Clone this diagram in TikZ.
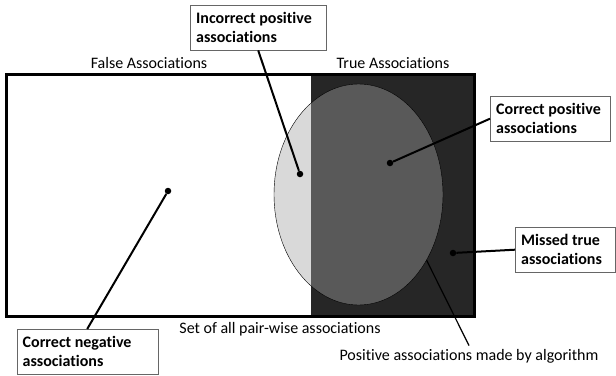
\documentclass[tikz,border=0pt]{standalone}
\usepackage{fontspec}
\setmainfont{Carlito}[Ligatures=CommonOff]
\usetikzlibrary{shapes.geometric, positioning}

\begin{document}
\begin{tikzpicture}[
    x=1pt, y=-1pt,
    labelbox/.style={draw=black!60, fill=white, anchor=north west, align=flush left, minimum height=45pt, inner xsep=6pt, font=\fontsize{16}{19}\selectfont\bfseries},
    caption/.style={font=\fontsize{16}{19}\selectfont},
    pointer/.style={line width=2pt},
    dot/.style={circle, fill=black, inner sep=0pt, minimum size=6.5pt}
]
\useasboundingbox (0,0) rectangle (616,375);

% the set of associations
\fill[white] (6,74) rectangle (311,316);
\fill[black!85] (311,74) rectangle (474,316);
\begin{scope}
    \clip (358.5,194.5) ellipse [x radius=84.5, y radius=110.5];
    \fill[black!15] (270,80) rectangle (311,310);
    \fill[black!65] (311,80) rectangle (450,310);
\end{scope}
\node[ellipse, draw, thin, minimum width=169pt, minimum height=221pt, inner sep=0pt] (alg) at (358.5,194.5) {};
\draw[line width=3pt] (6,74) rectangle (474,316);

\node[caption] (falselbl) at (149,63) {False Associations};
\node[caption] (truelbl) at (393,63) {True Associations};
\node[caption] (setlbl) at (280,329) {Set of all pair-wise associations};
\node[caption] (alglbl) at (469,356) {Positive associations made by algorithm};

\node[dot] (negdot) at (168,191) {};
\node[dot] (fpdot) at (300,174) {};
\node[dot] (tpdot) at (390,163) {};
\node[dot] (fndot) at (453,253) {};

\node[labelbox, text width=124pt] (incorrect) at (190,5) {Incorrect positive\\associations};
\node[labelbox, text width=108pt] (corrpos) at (490,96) {Correct positive\\associations};
\node[labelbox, text width=88pt] (missed) at (515,227) {Missed true\\associations};
\node[labelbox, text width=129pt] (corrneg) at (16.5,329) {Correct negative\\associations};

\draw[pointer] (fpdot) -- (incorrect.south);
\draw[pointer] (tpdot) -- (corrpos.west);
\draw[pointer] (fndot) -- (missed.west);
\draw[pointer] (negdot) -- (corrneg.north);
\draw[line width=1.2pt] (alg.-44) -- (alglbl.north);

\end{tikzpicture}
\end{document}
